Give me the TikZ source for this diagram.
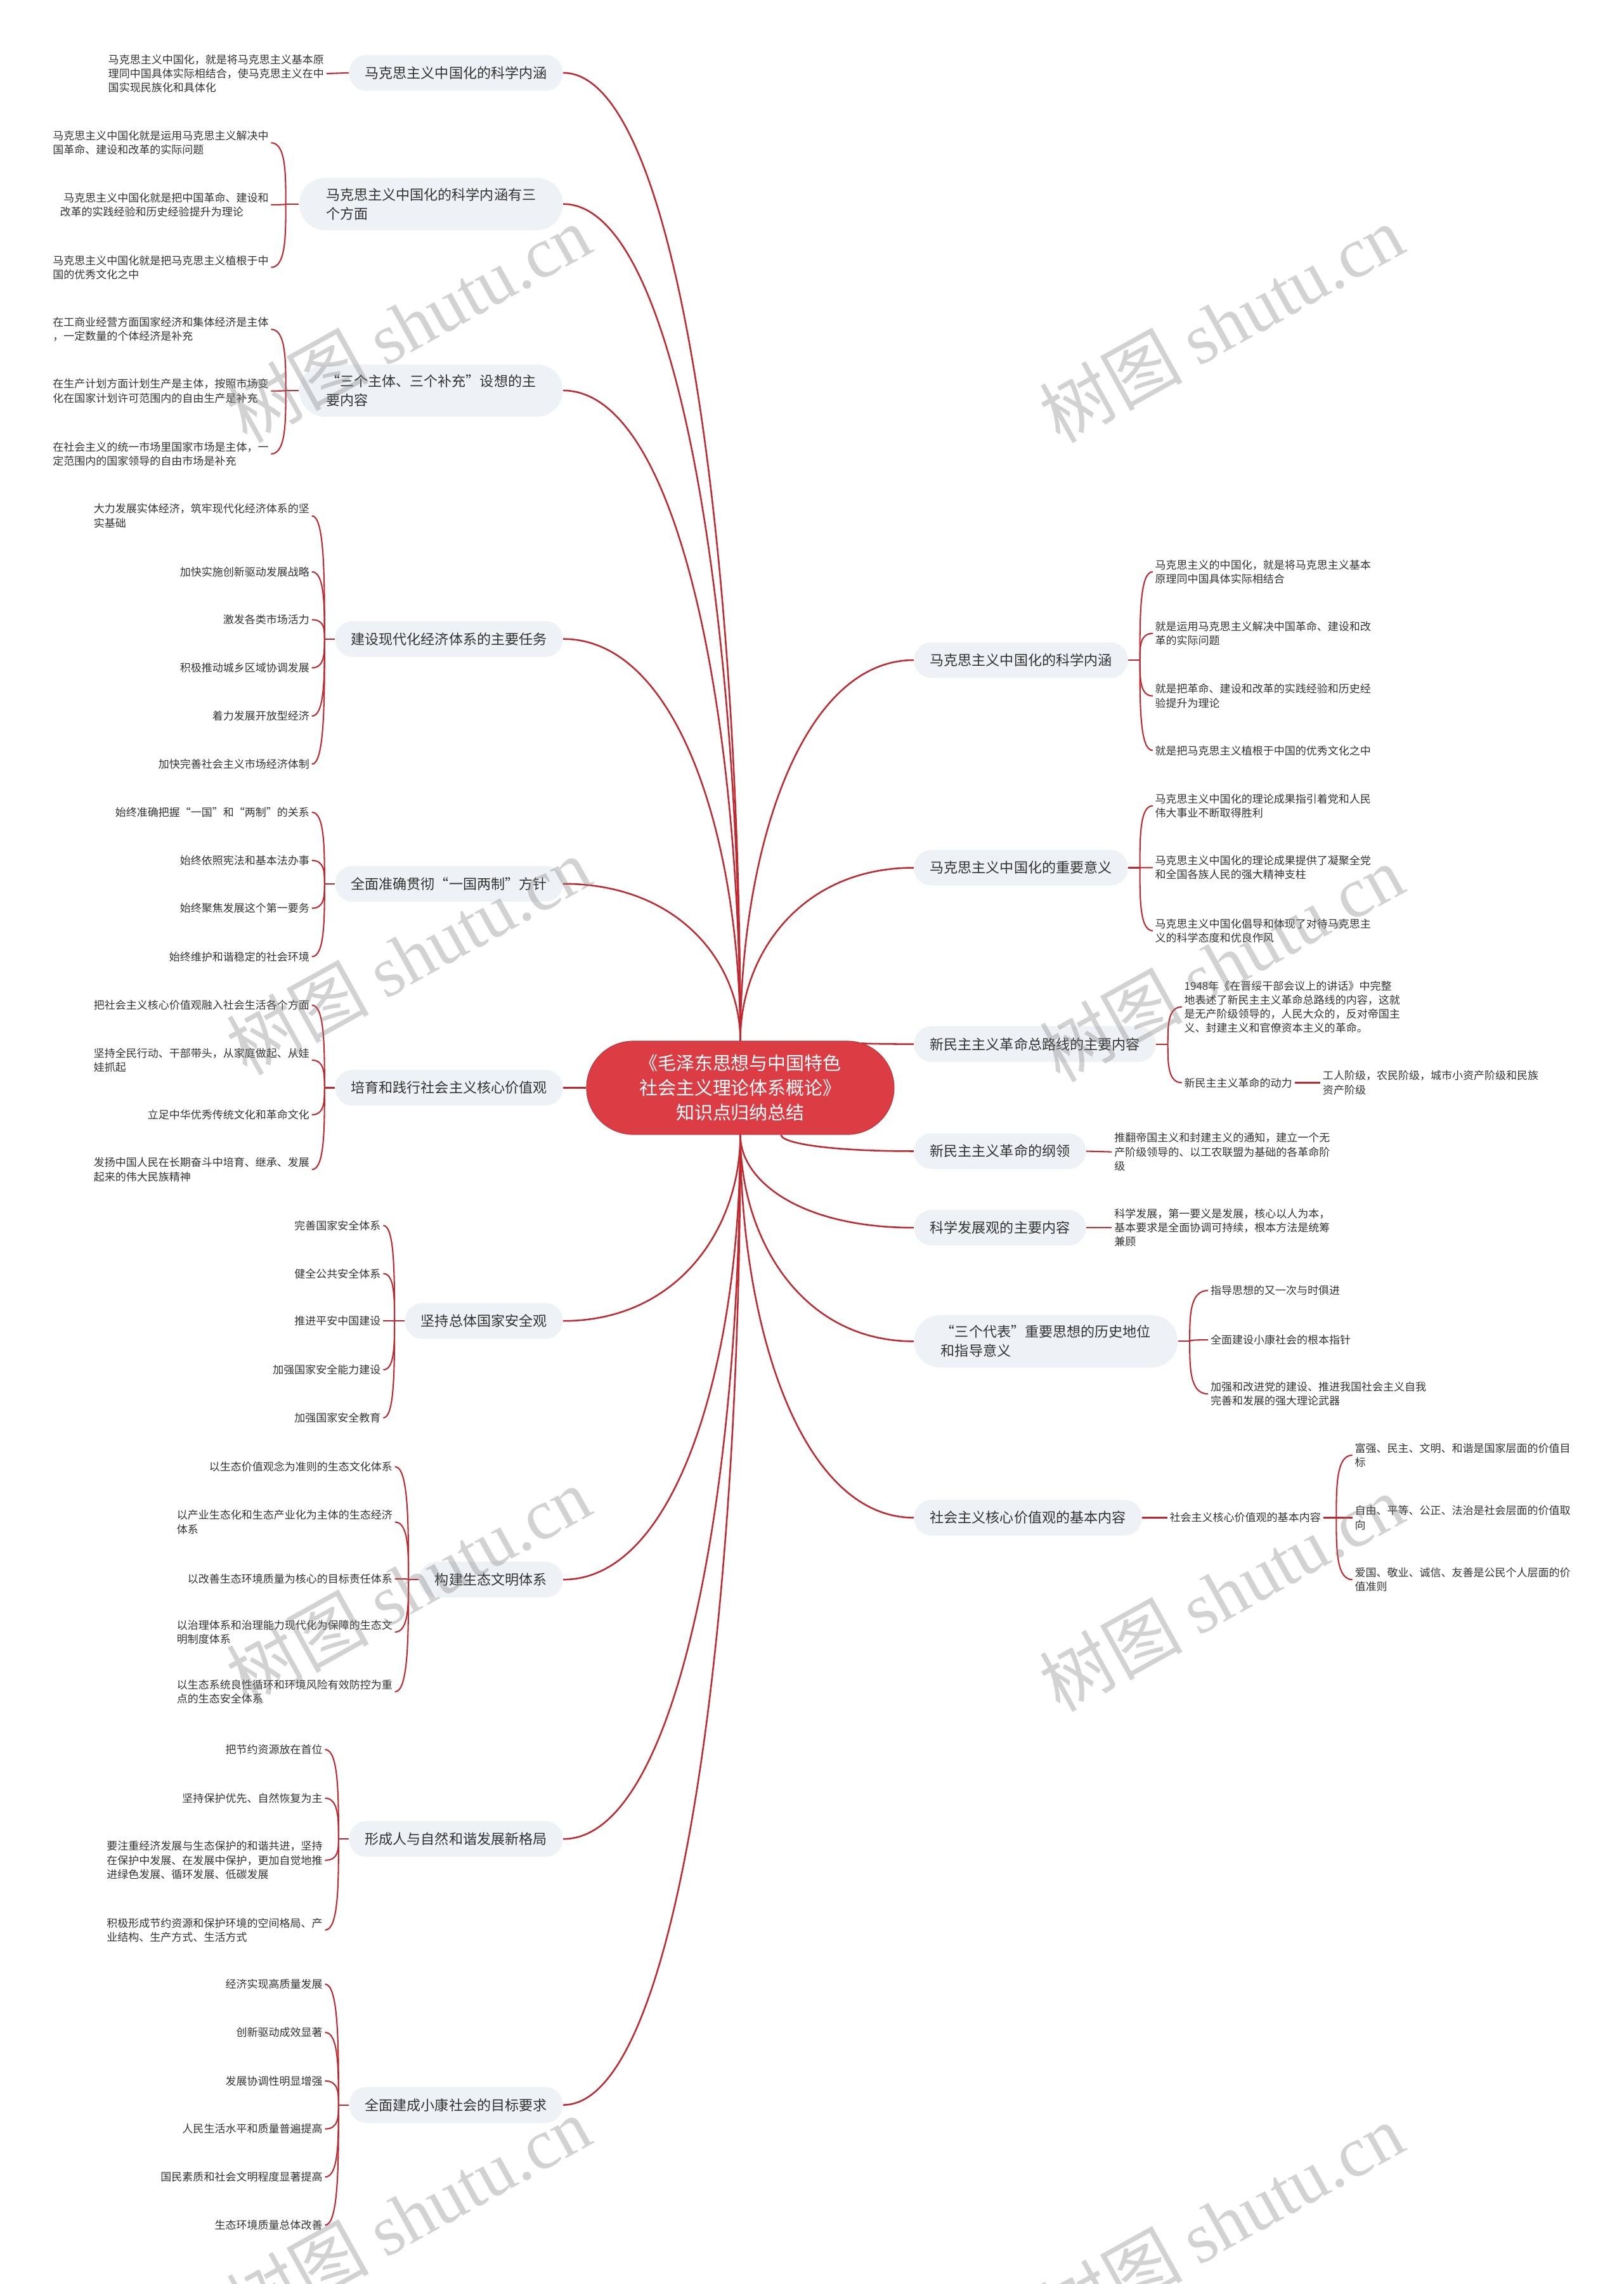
\documentclass[tikz,border=0pt]{standalone}
\usepackage{fontspec}
\setmainfont{Noto Sans CJK SC}
\newfontfamily\wmlatin{Liberation Serif}
\usetikzlibrary{calc,backgrounds}
\definecolor{lk}{RGB}{192,39,47}
\definecolor{rootred}{RGB}{220,60,67}
\definecolor{lvbg}{RGB}{238,241,245}
\definecolor{tx}{RGB}{51,51,51}
\tikzset{
  lvl/.style={fill=lvbg, rounded corners=12pt, inner xsep=11pt, inner ysep=0pt, minimum height=24.5pt, text=tx, font=\fontsize{9.6pt}{13pt}\selectfont},
  lvltwo/.style={lvl, rounded corners=18pt, inner xsep=18.5pt, inner ysep=7pt, align=left},
  leaf/.style={text=tx, font=\fontsize{7.4pt}{9.7pt}\selectfont, inner xsep=1.5pt, inner ysep=1pt, align=left},
  root/.style={fill=rootred, draw=rootred!88!black, line width=0.5pt, rounded corners=32pt, minimum width=211pt, minimum height=64pt, inner sep=0pt, text=white, align=center, font=\fontsize{12.6pt}{17pt}\selectfont},
  brln/.style={draw=lk, line width=1.1pt},
  lfln/.style={draw=lk, line width=0.9pt},
  wm/.style={text=gray, text opacity=0.35, rotate=29, inner sep=0pt, font=\fontsize{49pt}{49pt}\selectfont}
}
\newcommand\brto[2]{\draw[brln] (#1) .. controls ($(#1)!0.5!(#1 |- #2)$) and ($(#2)!0.65!(#2 -| #1)$) .. (#2);}
\newcommand\lfto[2]{\draw[lfln] (#1) .. controls ($(#1)!0.5!(#1 |- #2)$) and (#1 |- #2) .. (#2);}
\begin{document}
\begin{tikzpicture}[x=1pt,y=-1pt]
\useasboundingbox (0,0) rectangle (1114,1567.4);

% root
\node[root] (c) at (508,746.5) {《毛泽东思想与中国特色\\社会主义理论体系概论》\\知识点归纳总结};

% ---------- left level 1 ----------
\node[lvl, anchor=east] (n1) at (386.5,50) {马克思主义中国化的科学内涵};
\node[lvltwo, anchor=east] (n2) at (386.5,140) {马克思主义中国化的科学内涵有三\\个方面};
\node[lvltwo, anchor=east] (n3) at (386.5,268) {“三个主体、三个补充”设想的主\\要内容};
\node[lvl, anchor=east] (n4) at (386.5,438.5) {建设现代化经济体系的主要任务};
\node[lvl, anchor=east] (n5) at (386.5,606.5) {全面准确贯彻“一国两制”方针};
\node[lvl, anchor=east] (n6) at (386.5,746.5) {培育和践行社会主义核心价值观};
\node[lvl, anchor=east] (n7) at (386.5,906.5) {坚持总体国家安全观};
\node[lvl, anchor=east] (n8) at (386.5,1084) {构建生态文明体系};
\node[lvl, anchor=east] (n9) at (386.5,1262) {形成人与自然和谐发展新格局};
\node[lvl, anchor=east] (n10) at (386.5,1444.5) {全面建成小康社会的目标要求};

% ---------- right level 1 ----------
\node[lvl, anchor=west] (r1) at (627,453) {马克思主义中国化的科学内涵};
\node[lvl, anchor=west] (r2) at (627,595.5) {马克思主义中国化的重要意义};
\node[lvl, anchor=west] (r3) at (627,716.5) {新民主主义革命总路线的主要内容};
\node[lvl, anchor=west] (r4) at (627,790) {新民主主义革命的纲领};
\node[lvl, anchor=west] (r5) at (627,842.5) {科学发展观的主要内容};
\node[lvltwo, anchor=west] (r6) at (627,920.5) {“三个代表”重要思想的历史地位\\和指导意义};
\node[lvl, anchor=west] (r7) at (627,1041.5) {社会主义核心价值观的基本内容};

% ---------- left leaves ----------
\node[leaf, anchor=east] (l1) at (224,50.5) {马克思主义中国化，就是将马克思主义基本原\\理同中国具体实际相结合，使马克思主义在中\\国实现民族化和具体化};

\node[leaf, anchor=east] (l2a) at (186,98) {马克思主义中国化就是运用马克思主义解决中\\国革命、建设和改革的实际问题};
\node[leaf, anchor=east] (l2b) at (186,140.5) {\hspace*{2.5pt}马克思主义中国化就是把中国革命、建设和\\改革的实践经验和历史经验提升为理论};
\node[leaf, anchor=east] (l2c) at (186,183.5) {马克思主义中国化就是把马克思主义植根于中\\国的优秀文化之中};

\node[leaf, anchor=east] (l3a) at (186,226) {在工商业经营方面国家经济和集体经济是主体\\，一定数量的个体经济是补充};
\node[leaf, anchor=east] (l3b) at (186,268.3) {在生产计划方面计划生产是主体，按照市场变\\化在国家计划许可范围内的自由生产是补充};
\node[leaf, anchor=east] (l3c) at (186,311.5) {在社会主义的统一市场里国家市场是主体，一\\定范围内的国家领导的自由市场是补充};

\node[leaf, anchor=east] (l4a) at (214,354) {大力发展实体经济，筑牢现代化经济体系的坚\\实基础};
\node[leaf, anchor=east] (l4b) at (214,392.4) {加快实施创新驱动发展战略};
\node[leaf, anchor=east] (l4c) at (214,425.3) {激发各类市场活力};
\node[leaf, anchor=east] (l4d) at (214,458.3) {积极推动城乡区域协调发展};
\node[leaf, anchor=east] (l4e) at (214,491.4) {着力发展开放型经济};
\node[leaf, anchor=east] (l4f) at (214,524.4) {加快完善社会主义市场经济体制};

\node[leaf, anchor=east] (l5a) at (214,557.4) {始终准确把握“一国”和“两制”的关系};
\node[leaf, anchor=east] (l5b) at (214,590.5) {始终依照宪法和基本法办事};
\node[leaf, anchor=east] (l5c) at (214,623.3) {始终聚焦发展这个第一要务};
\node[leaf, anchor=east] (l5d) at (214,656.5) {始终维护和谐稳定的社会环境};

\node[leaf, anchor=east] (l6a) at (214,689.8) {把社会主义核心价值观融入社会生活各个方面};
\node[leaf, anchor=east] (l6b) at (214,727.5) {坚持全民行动、干部带头，从家庭做起、从娃\\娃抓起};
\node[leaf, anchor=east] (l6c) at (214,765) {立足中华优秀传统文化和革命文化};
\node[leaf, anchor=east] (l6d) at (214,802.6) {发扬中国人民在长期奋斗中培育、继承、发展\\起来的伟大民族精神};

\node[leaf, anchor=east] (l7a) at (263,841) {完善国家安全体系};
\node[leaf, anchor=east] (l7b) at (263,874) {健全公共安全体系};
\node[leaf, anchor=east] (l7c) at (263,906.5) {推进平安中国建设};
\node[leaf, anchor=east] (l7d) at (263,940) {加强国家安全能力建设};
\node[leaf, anchor=east] (l7e) at (263,973) {加强国家安全教育};

\node[leaf, anchor=east] (l8a) at (271,1006.5) {以生态价值观念为准则的生态文化体系};
\node[leaf, anchor=east] (l8b) at (271,1044.5) {以产业生态化和生态产业化为主体的生态经济\\体系};
\node[leaf, anchor=east] (l8c) at (271,1083.5) {以改善生态环境质量为核心的目标责任体系};
\node[leaf, anchor=east] (l8d) at (271,1120) {以治理体系和治理能力现代化为保障的生态文\\明制度体系};
\node[leaf, anchor=east] (l8e) at (271,1161) {以生态系统良性循环和环境风险有效防控为重\\点的生态安全体系};

\node[leaf, anchor=east] (l9a) at (223,1200.6) {把节约资源放在首位};
\node[leaf, anchor=east] (l9b) at (223,1234) {坚持保护优先、自然恢复为主};
\node[leaf, anchor=east] (l9c) at (223,1276.6) {要注重经济发展与生态保护的和谐共进，坚持\\在保护中发展、在发展中保护，更加自觉地推\\进绿色发展、循环发展、低碳发展};
\node[leaf, anchor=east] (l9d) at (223,1324.5) {积极形成节约资源和保护环境的空间格局、产\\业结构、生产方式、生活方式};

\node[leaf, anchor=east] (l10a) at (223,1361.6) {经济实现高质量发展};
\node[leaf, anchor=east] (l10b) at (223,1394.7) {创新驱动成效显著};
\node[leaf, anchor=east] (l10c) at (223,1428) {发展协调性明显增强};
\node[leaf, anchor=east] (l10d) at (223,1461) {人民生活水平和质量普遍提高};
\node[leaf, anchor=east] (l10e) at (223,1494) {国民素质和社会文明程度显著提高};
\node[leaf, anchor=east] (l10f) at (223,1527) {生态环境质量总体改善};

% ---------- right leaves ----------
\node[leaf, anchor=west] (r1a) at (791,392.4) {马克思主义的中国化，就是将马克思主义基本\\原理同中国具体实际相结合};
\node[leaf, anchor=west] (r1b) at (791,434.7) {就是运用马克思主义解决中国革命、建设和改\\革的实际问题};
\node[leaf, anchor=west] (r1c) at (791,477.6) {就是把革命、建设和改革的实践经验和历史经\\验提升为理论};
\node[leaf, anchor=west] (r1d) at (791,515) {就是把马克思主义植根于中国的优秀文化之中};

\node[leaf, anchor=west] (r2a) at (791,553) {马克思主义中国化的理论成果指引着党和人民\\伟大事业不断取得胜利};
\node[leaf, anchor=west] (r2b) at (791,595.4) {马克思主义中国化的理论成果提供了凝聚全党\\和全国各族人民的强大精神支柱};
\node[leaf, anchor=west] (r2c) at (791,638.7) {马克思主义中国化倡导和体现了对待马克思主\\义的科学态度和优良作风};

\node[leaf, anchor=west] (r3a) at (811,691) {1948年《在晋绥干部会议上的讲话》中完整\\地表述了新民主主义革命总路线的内容，这就\\是无产阶级领导的，人民大众的，反对帝国主\\义、封建主义和官僚资本主义的革命。};
\node[leaf, anchor=west] (r3b) at (811,743) {新民主主义革命的动力};
\node[leaf, anchor=west] (r3b1) at (906,743) {工人阶级，农民阶级，城市小资产阶级和民族\\资产阶级};

\node[leaf, anchor=west] (r4a) at (763,790.5) {推翻帝国主义和封建主义的通知，建立一个无\\产阶级领导的、以工农联盟为基础的各革命阶\\级};
\node[leaf, anchor=west] (r5a) at (763,842.5) {科学发展，第一要义是发展，核心以人为本，\\基本要求是全面协调可持续，根本方法是统筹\\兼顾};

\node[leaf, anchor=west] (r6a) at (829,885.6) {指导思想的又一次与时俱进};
\node[leaf, anchor=west] (r6b) at (829,919.5) {全面建设小康社会的根本指针};
\node[leaf, anchor=west] (r6c) at (829,956.6) {加强和改进党的建设、推进我国社会主义自我\\完善和发展的强大理论武器};

\node[leaf, anchor=west] (r7a) at (801,1041.5) {社会主义核心价值观的基本内容};
\node[leaf, anchor=west] (r7a1) at (928,998.6) {富强、民主、文明、和谐是国家层面的价值目\\标};
\node[leaf, anchor=west] (r7a2) at (928,1041.5) {自由、平等、公正、法治是社会层面的价值取\\向};
\node[leaf, anchor=west] (r7a3) at (928,1084) {爱国、敬业、诚信、友善是公民个人层面的价\\值准则};

% junctions
\coordinate (c3) at ([xshift=83pt,yshift=-1.6pt]c.north);
\coordinate (c4) at ([xshift=28pt]c.south);
\coordinate (j2) at ([xshift=-9pt]n2.west);
\coordinate (j3) at ([xshift=-9pt]n3.west);
\coordinate (j4) at ([xshift=-7pt]n4.west);
\coordinate (j5) at ([xshift=-7pt]n5.west);
\coordinate (j6) at ([xshift=-7pt]n6.west);
\coordinate (j7) at ([xshift=-7pt]n7.west);
\coordinate (j8) at ([xshift=-7pt]n8.west);
\coordinate (j9) at ([xshift=-7pt]n9.west);
\coordinate (j10) at ([xshift=-7pt]n10.west);
\coordinate (k1) at ([xshift=8pt]r1.east);
\coordinate (k2) at ([xshift=8pt]r2.east);
\coordinate (k3) at ([xshift=8pt]r3.east);
\coordinate (k6) at ([xshift=8pt]r6.east);
\coordinate (k7) at ([xshift=9pt]r7a.east);

\begin{pgfonlayer}{background}
\fill[white] (0,0) rectangle (1114,1567.4);
% main branches
\brto{c.north}{n1.east}
\brto{c.north}{n2.east}
\brto{c.north}{n3.east}
\brto{c.north}{n4.east}
\brto{c.north}{n5.east}
\draw[brln] (c.west) -- (n6.east);
\brto{c.south}{n7.east}
\brto{c.south}{n8.east}
\brto{c.south}{n9.east}
\brto{c.south}{n10.east}
\brto{c.north}{r1.west}
\brto{c.north}{r2.west}
\brto{c3}{r3.west}
\brto{c4}{r4.west}
\brto{c.south}{r5.west}
\brto{c.south}{r6.west}
\brto{c.south}{r7.west}
% leaf links left
\draw[lfln] (n1.west) -- (l1.east);
\draw[lfln] (n2.west) -- (j2); \lfto{j2}{l2a.east} \lfto{j2}{l2b.east} \lfto{j2}{l2c.east}
\draw[lfln] (n3.west) -- (j3); \lfto{j3}{l3a.east} \lfto{j3}{l3b.east} \lfto{j3}{l3c.east}
\draw[lfln] (n4.west) -- (j4); \lfto{j4}{l4a.east} \lfto{j4}{l4b.east} \lfto{j4}{l4c.east} \lfto{j4}{l4d.east} \lfto{j4}{l4e.east} \lfto{j4}{l4f.east}
\draw[lfln] (n5.west) -- (j5); \lfto{j5}{l5a.east} \lfto{j5}{l5b.east} \lfto{j5}{l5c.east} \lfto{j5}{l5d.east}
\draw[lfln] (n6.west) -- (j6); \lfto{j6}{l6a.east} \lfto{j6}{l6b.east} \lfto{j6}{l6c.east} \lfto{j6}{l6d.east}
\draw[lfln] (n7.west) -- (j7); \lfto{j7}{l7a.east} \lfto{j7}{l7b.east} \lfto{j7}{l7c.east} \lfto{j7}{l7d.east} \lfto{j7}{l7e.east}
\draw[lfln] (n8.west) -- (j8); \lfto{j8}{l8a.east} \lfto{j8}{l8b.east} \lfto{j8}{l8c.east} \lfto{j8}{l8d.east} \lfto{j8}{l8e.east}
\draw[lfln] (n9.west) -- (j9); \lfto{j9}{l9a.east} \lfto{j9}{l9b.east} \lfto{j9}{l9c.east} \lfto{j9}{l9d.east}
\draw[lfln] (n10.west) -- (j10); \lfto{j10}{l10a.east} \lfto{j10}{l10b.east} \lfto{j10}{l10c.east} \lfto{j10}{l10d.east} \lfto{j10}{l10e.east} \lfto{j10}{l10f.east}
% leaf links right
\draw[lfln] (r1.east) -- (k1); \lfto{k1}{r1a.west} \lfto{k1}{r1b.west} \lfto{k1}{r1c.west} \lfto{k1}{r1d.west}
\draw[lfln] (r2.east) -- (k2); \lfto{k2}{r2a.west} \lfto{k2}{r2b.west} \lfto{k2}{r2c.west}
\draw[lfln] (r3.east) -- (k3); \lfto{k3}{r3a.west} \lfto{k3}{r3b.west}
\draw[lfln] (r3b.east) -- (r3b1.west);
\draw[lfln] (r4.east) -- (r4a.west);
\draw[lfln] (r5.east) -- (r5a.west);
\draw[lfln] (r6.east) -- (k6); \lfto{k6}{r6a.west} \lfto{k6}{r6b.west} \lfto{k6}{r6c.west}
\draw[lfln] (r7.east) -- (r7a.west);
\draw[lfln] (r7a.east) -- (k7); \lfto{k7}{r7a1.west} \lfto{k7}{r7a2.west} \lfto{k7}{r7a3.west}
\end{pgfonlayer}

% watermarks
\node[wm] (w1) at (280,222) {树图 {\wmlatin shutu.cn}};
\node[wm] (w2) at (838,222) {树图 {\wmlatin shutu.cn}};
\node[wm] (w3) at (280,656) {树图 {\wmlatin shutu.cn}};
\node[wm] (w4) at (838,661) {树图 {\wmlatin shutu.cn}};
\node[wm] (w5) at (280,1088) {树图 {\wmlatin shutu.cn}};
\node[wm] (w6) at (838,1093) {树图 {\wmlatin shutu.cn}};
\node[wm] (w7) at (280,1520) {树图 {\wmlatin shutu.cn}};
\node[wm] (w8) at (838,1525) {树图 {\wmlatin shutu.cn}};
\end{tikzpicture}
\end{document}
